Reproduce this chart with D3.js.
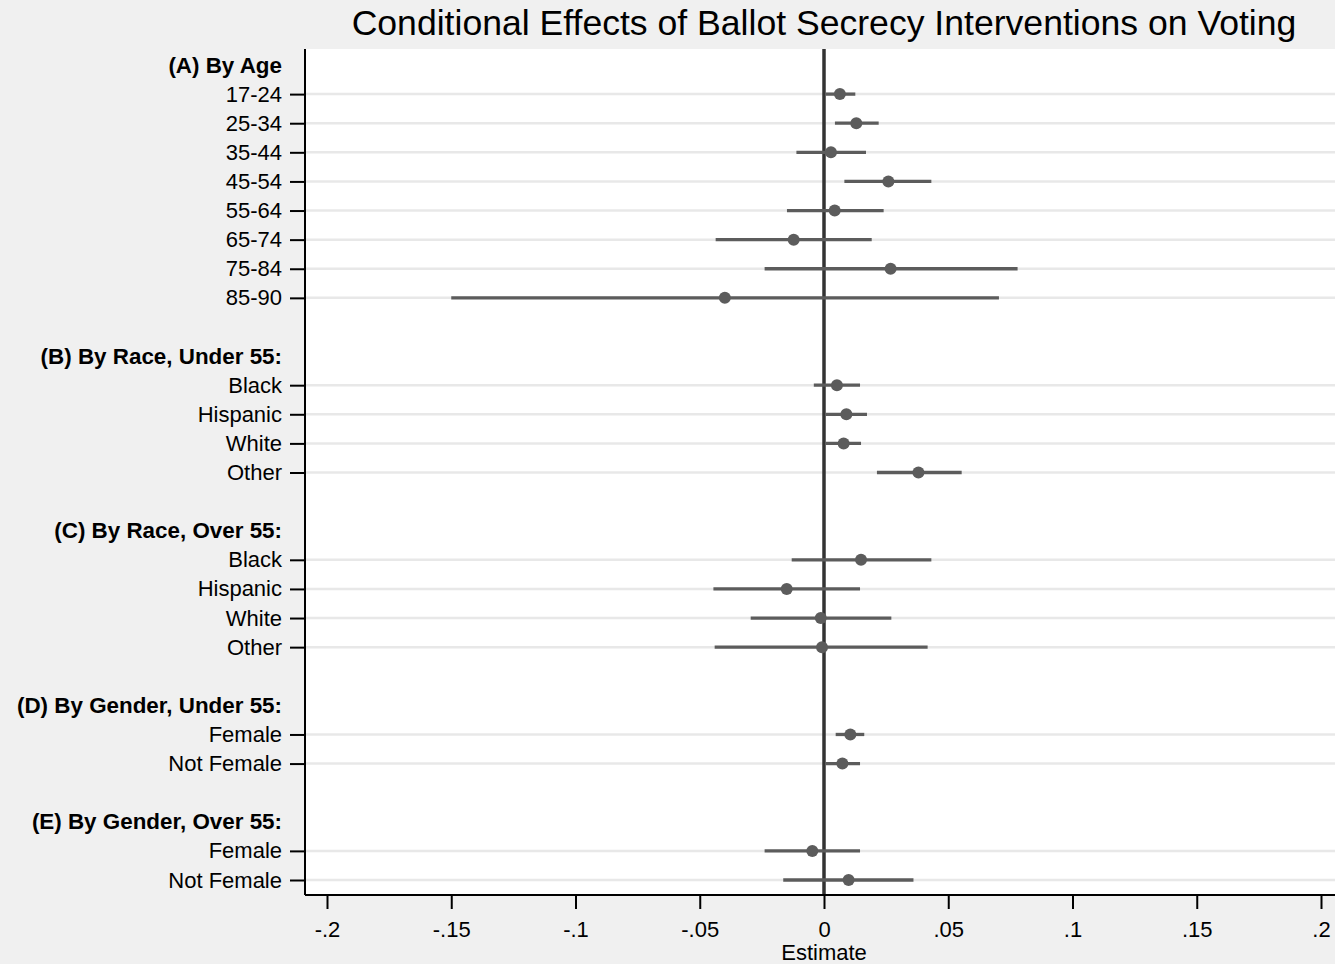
<!DOCTYPE html>
<html>
<head>
<meta charset="utf-8">
<script src="https://cdn.jsdelivr.net/npm/d3@7"></script>
<style>
  body { margin: 0; background: #f0f0f0; }
  svg { display: block; font-family: "Liberation Sans", Arial, sans-serif; }
</style>
</head>
<body>
<svg id="chart" width="1335" height="964"></svg>
<script>
// group headers and the rows under each
const groups = [
  "(A) By Age",
  "(B) By Race, Under 55:",
  "(C) By Race, Over 55:",
  "(D) By Gender, Under 55:",
  "(E) By Gender, Over 55:"
];
const groupLabels = [
  ["17-24", "25-34", "35-44", "45-54", "55-64", "65-74", "75-84", "85-90"],
  ["Black", "Hispanic", "White", "Other"],
  ["Black", "Hispanic", "White", "Other"],
  ["Female", "Not Female"],
  ["Female", "Not Female"]
];
const estimates = [
  [0.0064, 0.0130, 0.0028, 0.0259, 0.0043, -0.0122, 0.0268, -0.0399],
  [0.0052, 0.0090, 0.0079, 0.0380],
  [0.0149, -0.0150, -0.0013, -0.0008],
  [0.0106, 0.0074],
  [-0.0047, 0.0099]
];
const lower = [
  [0.0007, 0.0044, -0.0111, 0.0082, -0.0149, -0.0436, -0.0239, -0.1500],
  [-0.0041, 0.0007, 0.0007, 0.0213],
  [-0.0130, -0.0445, -0.0295, -0.0440],
  [0.0047, 0.0007],
  [-0.0239, -0.0164]
];
const upper = [
  [0.0126, 0.0220, 0.0169, 0.0432, 0.0240, 0.0192, 0.0779, 0.0704],
  [0.0145, 0.0173, 0.0149, 0.0554],
  [0.0432, 0.0145, 0.0271, 0.0417],
  [0.0162, 0.0145],
  [0.0145, 0.0360]
];
const xTicks = [-0.2, -0.15, -0.1, -0.05, 0, 0.05, 0.1, 0.15, 0.2];

// flatten into rows: header, items, blank spacer between groups
let rows = [];
groups.forEach(function(g, gi) {
  rows.push({id: "h" + gi, type: "header", label: g});
  groupLabels[gi].forEach(function(lab, i) {
    rows.push({id: "r" + gi + "_" + i, type: "item", label: lab,
      est: estimates[gi][i], lo: lower[gi][i], hi: upper[gi][i]});
  });
  if (gi < groups.length - 1) rows.push({id: "b" + gi, type: "blank", label: ""});
});
const items = rows.filter(r => r.type === "item");
const labelById = {};
rows.forEach(r => labelById[r.id] = r);

let svg = d3.select("#chart"),
  margin = {top: 49, right: -10, bottom: 69, left: 305},
  width = +svg.attr("width") - margin.left - margin.right,
  height = +svg.attr("height") - margin.top - margin.bottom;

// title
svg.append("text")
  .attr("x", 824)
  .attr("y", 35)
  .attr("text-anchor", "middle")
  .style("font-size", "35.6px")
  .attr("fill", "#000")
  .text("Conditional Effects of Ballot Secrecy Interventions on Voting");

let g = svg.append("g").attr("transform", "translate(" + margin.left + "," + margin.top + ")");

g.append("rect")
  .attr("width", width)
  .attr("height", height)
  .attr("fill", "#fff");

let x = d3.scaleLinear().domain([-0.2, 0.2]).range([327 - margin.left, 1321 - margin.left]);
let y = d3.scalePoint()
  .domain(rows.map(r => r.id))
  .range([16, height - 15]);

// grid lines
g.selectAll(".grid")
  .data(items)
  .enter().append("line")
  .attr("class", "grid")
  .attr("x1", 0).attr("x2", width)
  .attr("y1", d => y(d.id)).attr("y2", d => y(d.id))
  .attr("stroke", "#e8e8e8")
  .attr("stroke-width", 2.5);

// zero reference line
g.append("line")
  .attr("x1", x(0)).attr("x2", x(0))
  .attr("y1", 0).attr("y2", height)
  .attr("stroke", "#333")
  .attr("stroke-width", 3.5);

// confidence intervals
g.selectAll(".ci")
  .data(items)
  .enter().append("line")
  .attr("class", "ci")
  .attr("x1", d => x(d.lo)).attr("x2", d => x(d.hi))
  .attr("y1", d => y(d.id)).attr("y2", d => y(d.id))
  .attr("stroke", "#5c5c5c")
  .attr("stroke-width", 3.3);

// point estimates
g.selectAll(".pt")
  .data(items)
  .enter().append("circle")
  .attr("class", "pt")
  .attr("cx", d => x(d.est))
  .attr("cy", d => y(d.id))
  .attr("r", 6)
  .attr("fill", "#5c5c5c");

// y axis
let yAxis = g.append("g")
  .attr("class", "axis--y")
  .call(d3.axisLeft(y)
    .tickValues(rows.filter(r => r.type !== "blank").map(r => r.id))
    .tickSize(15)
    .tickPadding(8)
    .tickFormat(id => labelById[id].label));
yAxis.select(".domain").attr("stroke", "#000").attr("stroke-width", 2)
  .attr("d", "M0,0V" + height);
yAxis.selectAll(".tick line").attr("stroke", "#000").attr("stroke-width", 2);
yAxis.selectAll(".tick text")
  .style("font-size", "22px")
  .attr("fill", "#000")
  .attr("dy", "0.32em");
yAxis.selectAll(".tick")
  .filter(id => labelById[id].type === "header")
  .each(function() {
    d3.select(this).select("line").remove();
    d3.select(this).select("text")
      .style("font-weight", "bold")
      .style("font-size", "22.4px");
  });

// x axis, Stata style labels: -.15, .05, 0
let xAxis = g.append("g")
  .attr("class", "x-axis")
  .attr("transform", "translate(0," + height + ")")
  .call(d3.axisBottom(x)
    .tickValues(xTicks)
    .tickSize(14)
    .tickPadding(12)
    .tickFormat(d => d === 0 ? "0" : String(+d.toFixed(2)).replace("0.", ".")));
xAxis.select(".domain").attr("stroke", "#000").attr("stroke-width", 2)
  .attr("d", "M0,0H" + width);
xAxis.selectAll(".tick line").attr("stroke", "#000").attr("stroke-width", 2);
xAxis.selectAll(".tick text")
  .style("font-size", "22px")
  .attr("fill", "#000");

xAxis.append("text")
  .attr("x", x(0))
  .attr("y", 65)
  .attr("text-anchor", "middle")
  .attr("fill", "#000")
  .style("font-size", "22px")
  .text("Estimate");
</script>
</body>
</html>
